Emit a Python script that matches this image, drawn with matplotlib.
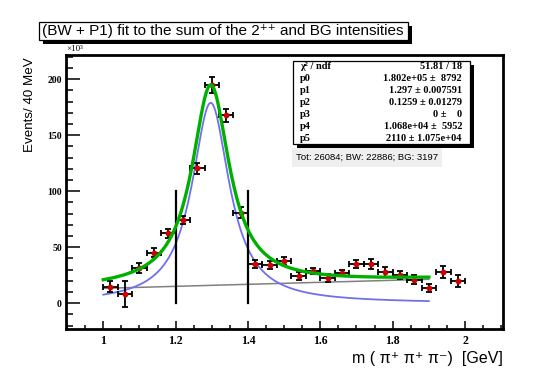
import numpy as np
import matplotlib
matplotlib.use('Agg')
import matplotlib.pyplot as plt
from matplotlib.patches import Rectangle
from matplotlib.ticker import MultipleLocator, FixedLocator

# ---------------- data (units: 10^3 events / 40 MeV) ----------------
mass = [1.02, 1.06, 1.10, 1.14, 1.18, 1.22, 1.26, 1.30, 1.34, 1.38,
        1.42, 1.46, 1.50, 1.54, 1.58, 1.62, 1.66, 1.70, 1.74, 1.78,
        1.82, 1.86, 1.90, 1.94, 1.98]
events = [14.8, 8.3, 31.8, 44.9, 62.5, 74.4, 120.5, 194.9, 167.9, 80.7,
          35.1, 34.5, 37.5, 24.4, 28.8, 22.6, 27.0, 34.8, 34.8, 28.2,
          25.0, 20.8, 13.4, 28.2, 19.9]
errors = [5.0, 12.0, 4.5, 4.0, 4.0, 3.5, 5.0, 7.0, 6.0, 5.0,
          3.5, 3.5, 3.5, 3.5, 3.0, 3.5, 3.0, 3.5, 4.5, 4.5,
          3.5, 4.0, 3.5, 5.5, 5.0]
bin_half_width = 0.02

# fit components
bw_peak = 179.0
bw_mass = 1.297
bw_width = 0.1259
fit_range = [1.0, 1.9]
bg_values = [13.3, 21.4]          # linear background at the fit-range ends
window_edges = [1.2, 1.4]
window_height = [0, 100]

x_ticks = [1.0, 1.2, 1.4, 1.6, 1.8, 2.0]
x_tick_labels = ['1', '1.2', '1.4', '1.6', '1.8', '2']
y_ticks = [0, 50, 100, 150, 200]

stats_names = ['\u03c7\u00b2 / ndf', 'p0', 'p1', 'p2', 'p3', 'p4', 'p5']
stats_values = ['51.81 / 18', '1.802e+05 \u00b1  8792', '1.297 \u00b1 0.007591',
                '0.1259 \u00b1 0.01279', '0 \u00b1    0', '1.068e+04 \u00b1  5952',
                '2110 \u00b1 1.075e+04']
summary_text = 'Tot: 26084; BW: 22886; BG: 3197'
title_text = '(BW + P1) fit to the sum of the 2\u207a\u207a and BG intensities'

# ---------------- figure ----------------
W, H = 544, 387
fig = plt.figure(figsize=(W / 100, H / 100), dpi=100)
fig.patch.set_facecolor('white')


def fx(x):
    return x / W


def fy(y):
    return 1 - y / H


ax = fig.add_axes([fx(66), fy(329), (503 - 66) / W, (329 - 55) / H])
ax.set_xlim(0.897, 2.105)
ax.set_ylim(-23, 221.7)

# fit curves
xc = np.linspace(fit_range[0], fit_range[1], 500)
half = bw_width / 2
bw = bw_peak * half ** 2 / ((xc - bw_mass) ** 2 + half ** 2)
bg = np.interp(xc, fit_range, bg_values)
ax.plot(xc, bg, color='#808080', lw=1.1, zorder=2)
ax.plot(xc, bw, color='#6f6ff0', lw=1.3, zorder=3)

# window lines
for xe in window_edges:
    ax.plot([xe, xe], window_height, color='black', lw=1.6, zorder=4)

# data
ax.errorbar(mass, events, yerr=errors, xerr=bin_half_width, fmt='o',
            color='black', ecolor='black', elinewidth=1.3, capsize=2.0,
            capthick=1.3, markersize=3.2, markerfacecolor='#d00000',
            markeredgecolor='#d00000', zorder=5)

ax.plot(xc, bw + bg, color='#00b000', lw=2.4, zorder=6)

for s in ax.spines.values():
    s.set_linewidth(2)

ax.xaxis.set_major_locator(FixedLocator(x_ticks))
ax.set_xticklabels(x_tick_labels)
ax.xaxis.set_minor_locator(MultipleLocator(0.05))
ax.yaxis.set_major_locator(FixedLocator(y_ticks))
ax.yaxis.set_minor_locator(MultipleLocator(10))
ax.tick_params(axis='both', which='both', direction='in', top=False, right=False)
ax.tick_params(axis='y', which='major', length=10, width=1.1, pad=3)
ax.tick_params(axis='y', which='minor', length=5, width=1.1)
ax.tick_params(axis='x', which='major', length=6, width=1.1, pad=4)
ax.tick_params(axis='x', which='minor', length=3, width=1.1)
for lab in ax.get_xticklabels() + ax.get_yticklabels():
    lab.set_family('Liberation Serif')
    lab.set_fontweight('bold')
for lab in ax.get_xticklabels():
    lab.set_fontsize(8.5)
for lab in ax.get_yticklabels():
    lab.set_fontsize(7)

# x10^3
fig.text(fx(66), fy(49), '\u00d710\u00b3', fontsize=6.5, family='Liberation Serif',
         ha='left', va='center')

# axis labels
fig.text(fx(30), fy(57), 'Events/ 40 MeV', rotation=90, ha='center', va='top',
         fontsize=9.6, family='Liberation Sans')
fig.text(fx(503), fy(359), 'm ( \u03c0\u207a \u03c0\u207a \u03c0\u207b)  [GeV]', ha='right',
         va='center', fontsize=11.5, family=['Liberation Sans', 'DejaVu Sans'])

# title box with shadow
tx0, tx1, ty0, ty1 = 39, 408, 22, 40
fig.patches.append(Rectangle((fx(tx0 + 4), fy(ty1 + 4)), (tx1 - tx0) / W, (ty1 - ty0) / H,
                             transform=fig.transFigure, facecolor='black',
                             edgecolor='none', zorder=1))
fig.patches.append(Rectangle((fx(tx0), fy(ty1)), (tx1 - tx0) / W, (ty1 - ty0) / H,
                             transform=fig.transFigure, facecolor='white',
                             edgecolor='black', lw=0.9, zorder=2))
fig.text(fx(42), fy(31), title_text, ha='left', va='center', fontsize=11.0,
         family=['Liberation Sans', 'DejaVu Sans'], zorder=3)

# stats box with shadow
sx0, sx1, sy0, sy1 = 293, 470, 61, 144
fig.patches.append(Rectangle((fx(sx0 + 4), fy(sy1 + 4)), (sx1 - sx0) / W, (sy1 - sy0) / H,
                             transform=fig.transFigure, facecolor='black',
                             edgecolor='none', zorder=7))
fig.patches.append(Rectangle((fx(sx0), fy(sy1)), (sx1 - sx0) / W, (sy1 - sy0) / H,
                             transform=fig.transFigure, facecolor='white',
                             edgecolor='black', lw=0.9, zorder=8))
row_h = (sy1 - sy0) / 7
for i, (n, v) in enumerate(zip(stats_names, stats_values)):
    yy = sy0 + row_h * (i + 0.5)
    fig.text(fx(300), fy(yy), n, ha='left', va='center', fontsize=7.5,
             family='Liberation Serif', fontweight='bold', zorder=9)
    fig.text(fx(462), fy(yy), v, ha='right', va='center', fontsize=7.5,
             family='Liberation Serif', fontweight='bold', zorder=9)

# summary box
fig.patches.append(Rectangle((fx(292), fy(167)), (442 - 292) / W, (167 - 148) / H,
                             transform=fig.transFigure, facecolor='#efefef',
                             edgecolor='none', zorder=7))
fig.text(fx(367), fy(157.5), summary_text, ha='center', va='center', fontsize=6.8,
         family='Liberation Sans', zorder=9)

fig.savefig('out.png', dpi=100)
